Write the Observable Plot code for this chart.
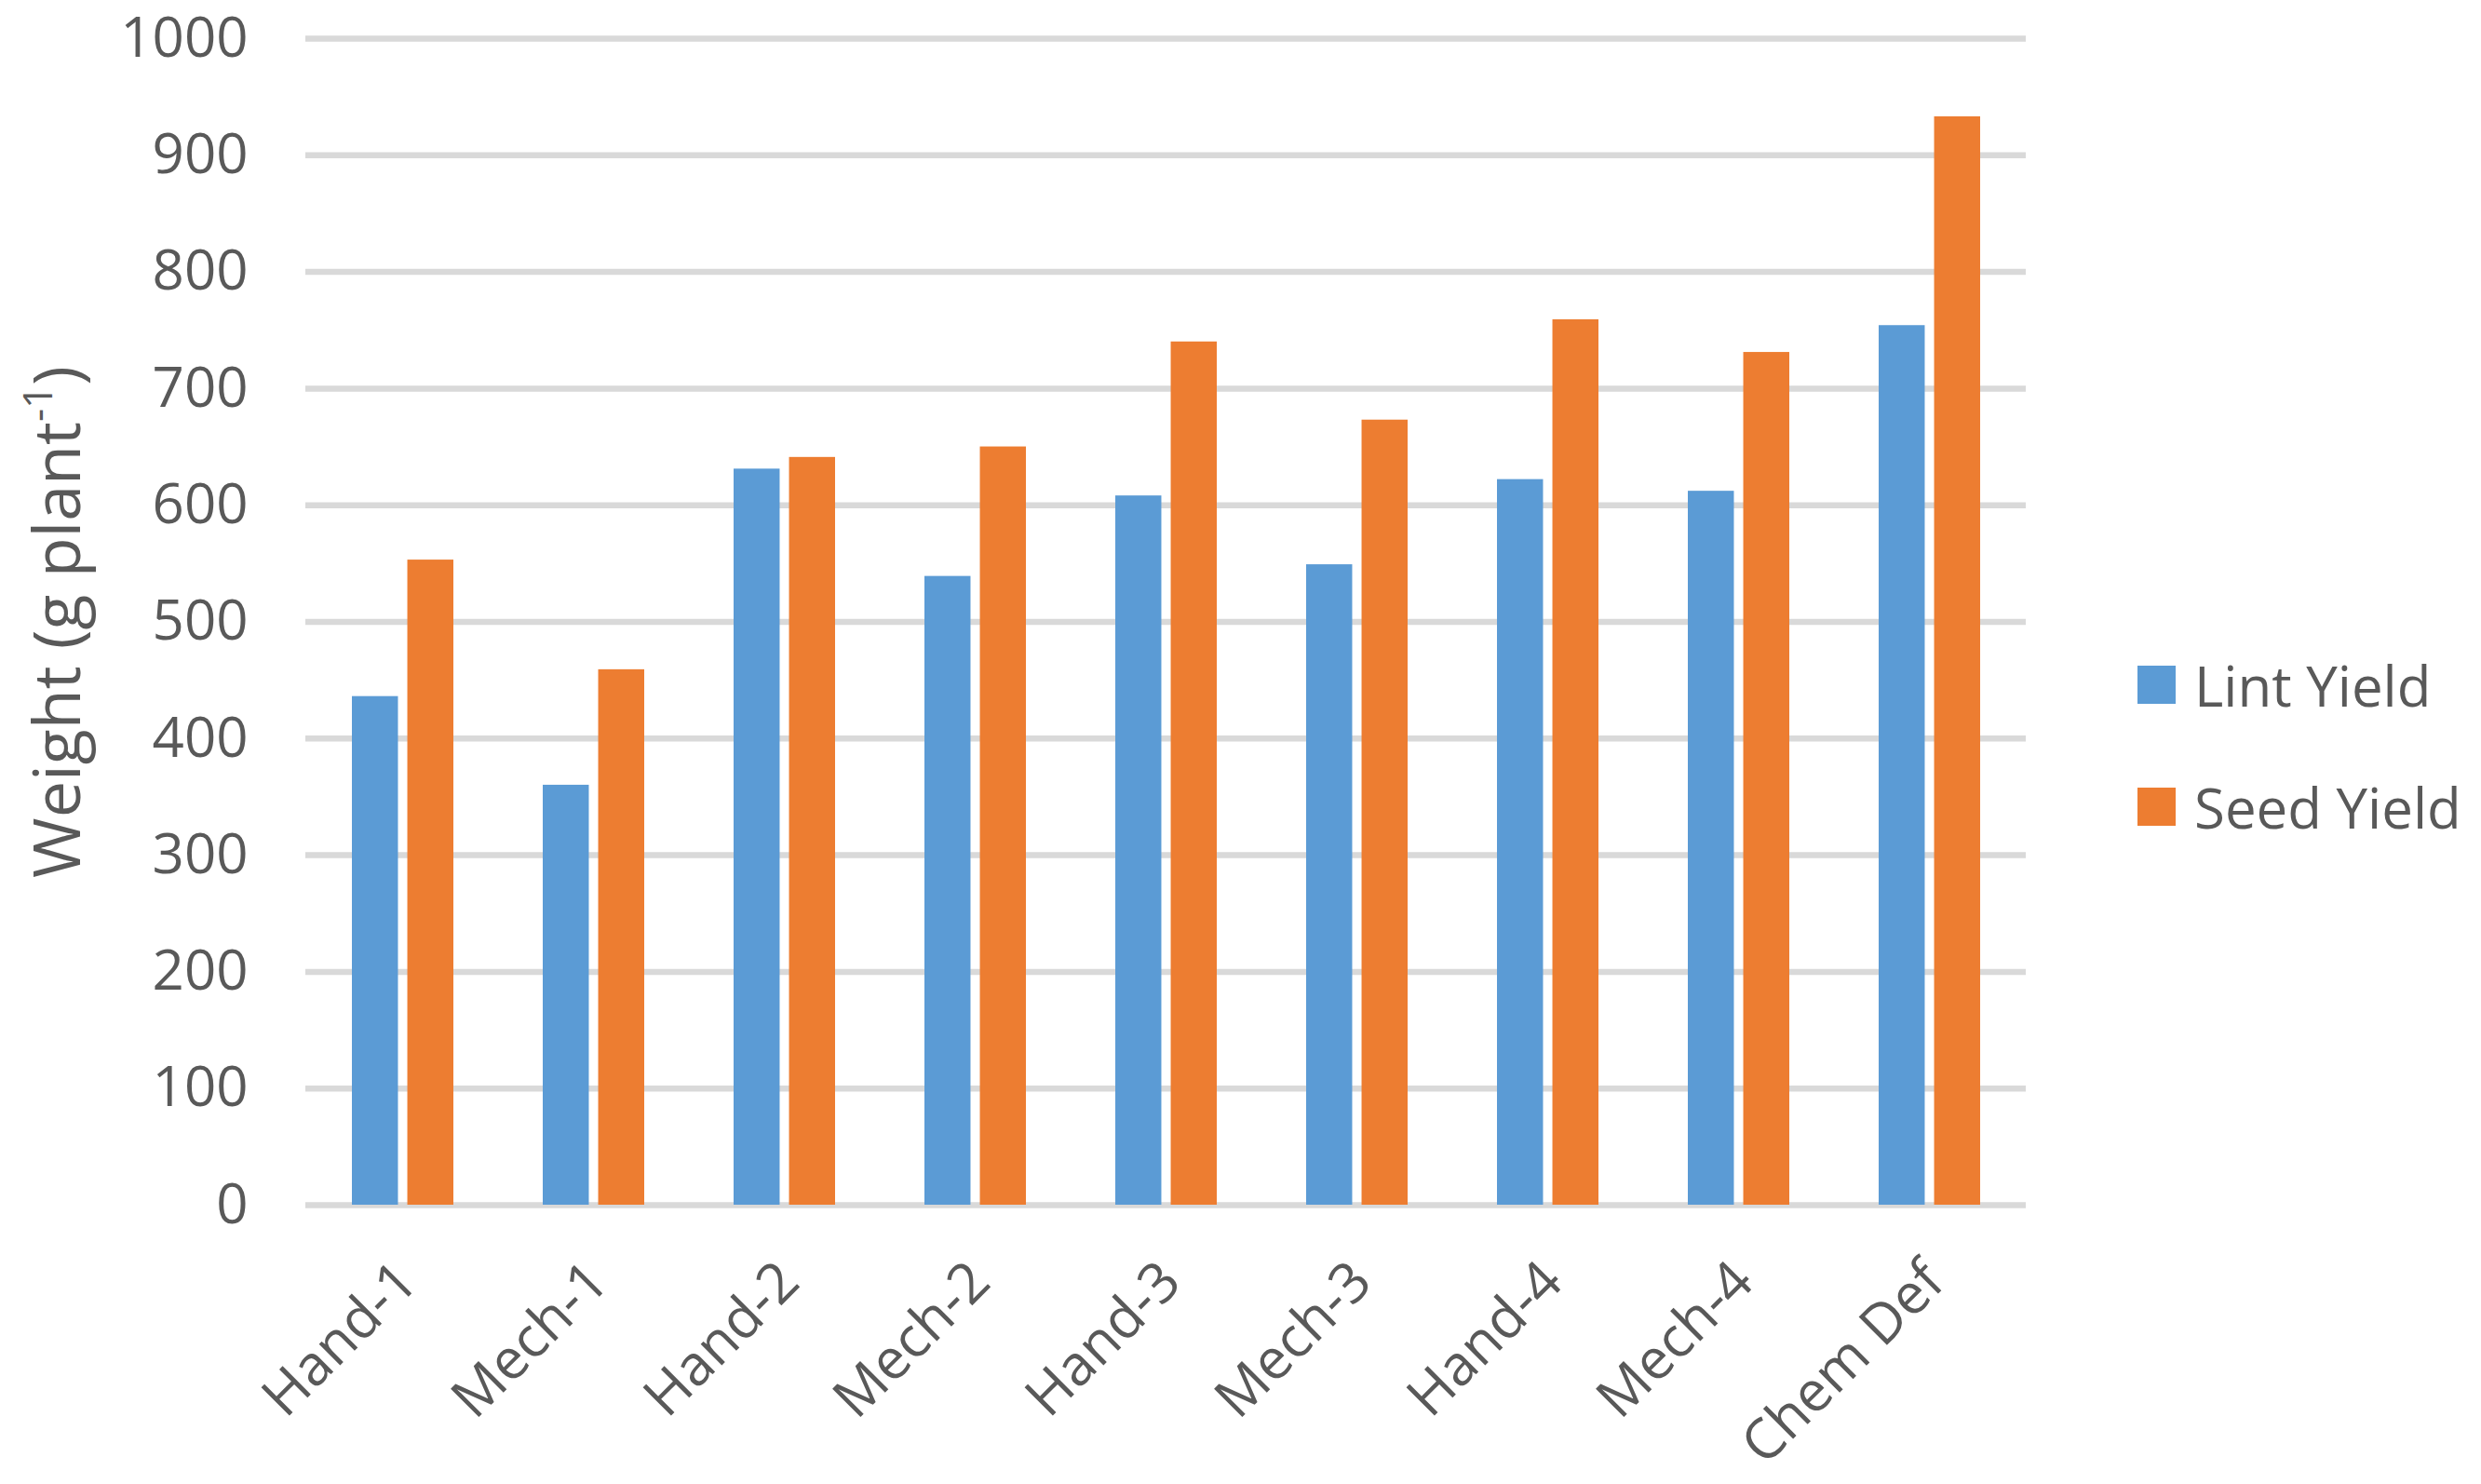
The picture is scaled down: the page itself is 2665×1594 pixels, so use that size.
<!DOCTYPE html>
<html>
<head>
<meta charset="utf-8">
<script src="https://cdn.jsdelivr.net/npm/d3@7"></script>
<script src="https://cdn.jsdelivr.net/npm/@observablehq/plot@0.6"></script>
<style>
  html, body { margin: 0; padding: 0; background: #fff; }
  #wrap { display: flex; align-items: flex-start; width: 2665px; height: 1594px; }
  #legend { font-family: "Open Sans", sans-serif; font-size: 60px; color: #595959; padding-left: 36px; padding-top: 670px; }
  .item { display: flex; align-items: center; height: 131px; white-space: nowrap; }
  .sw { width: 41px; height: 41px; margin-right: 20px; flex: none; }
</style>
</head>
<body>
<div id="wrap"><div id="chart"></div><div id="legend"></div></div>
<script>
const categories = ["Hand-1", "Mech-1", "Hand-2", "Mech-2", "Hand-3", "Mech-3", "Hand-4", "Mech-4", "Chem Def"];
const lintYield = [436, 360, 631, 539, 608, 549, 622, 612, 754];
const seedYield = [553, 459, 641, 650, 740, 673, 759, 731, 933];
const seriesNames = ["Lint Yield", "Seed Yield"];
const seriesColors = ["#5b9bd5", "#ed7d31"];
const yTicks = [0, 100, 200, 300, 400, 500, 600, 700, 800, 900, 1000];
const yLabel = "Weight (g plant-1)";

const W = 2260, H = 1594, mL = 328, mR = 84, mT = 41, mB = 300;
const padInner = 0.469;
const bandwidth = (W - mL - mR) / categories.length * (1 - padInner);
const barFrac = 0.454; // each bar's share of the group width
const inset = bandwidth * (1 - barFrac);

const lintData = categories.map((c, i) => ({category: c, series: seriesNames[0], value: lintYield[i]}));
const seedData = categories.map((c, i) => ({category: c, series: seriesNames[1], value: seedYield[i]}));

const chart = Plot.plot({
  width: W, height: H,
  marginLeft: mL, marginRight: mR, marginTop: mT, marginBottom: mB,
  style: {fontFamily: "Open Sans, sans-serif", fontSize: "60px", color: "#595959", background: "#fff"},
  x: {domain: categories, paddingInner: padInner, paddingOuter: padInner / 2},
  y: {domain: [0, 1000]},
  color: {domain: seriesNames, range: seriesColors},
  marks: [
    Plot.ruleY(yTicks, {stroke: "#d9d9d9", strokeWidth: 6.5}),
    Plot.barY(lintData, {x: "category", y: "value", fill: "series", insetRight: inset}),
    Plot.barY(seedData, {x: "category", y: "value", fill: "series", insetLeft: inset}),
    Plot.axisY({ticks: yTicks, tickFormat: d => String(d), tickSize: 0, tickPadding: 62, label: null, fill: "#595959"}),
    Plot.axisY({ticks: [], label: yLabel, labelArrow: "none", labelAnchor: "center", labelOffset: 292, fontSize: 70, fill: "#595959"}),
    Plot.axisX({tickSize: 0, tickRotate: -45, tickPadding: 72, dx: 5, fontSize: 60, label: null, fill: "#595959"})
  ]
});
document.getElementById("chart").appendChild(chart);

// superscript for the y-axis label
chart.querySelectorAll("text").forEach(t => {
  if (t.textContent.startsWith("Weight")) {
    t.textContent = "";
    const ns = "http://www.w3.org/2000/svg";
    const a = document.createElementNS(ns, "tspan"); a.textContent = "Weight (g plant";
    const b = document.createElementNS(ns, "tspan"); b.textContent = "-1"; b.setAttribute("baseline-shift", "super"); b.setAttribute("font-size", "44px");
    const c = document.createElementNS(ns, "tspan"); c.textContent = ")";
    t.append(a, b, c);
  }
});

const legend = document.getElementById("legend");
seriesNames.forEach((s, i) => {
  const item = document.createElement("div"); item.className = "item";
  const sw = document.createElement("div"); sw.className = "sw"; sw.style.background = seriesColors[i];
  const lb = document.createElement("span"); lb.textContent = s;
  item.append(sw, lb); legend.append(item);
});
</script>
</body>
</html>
